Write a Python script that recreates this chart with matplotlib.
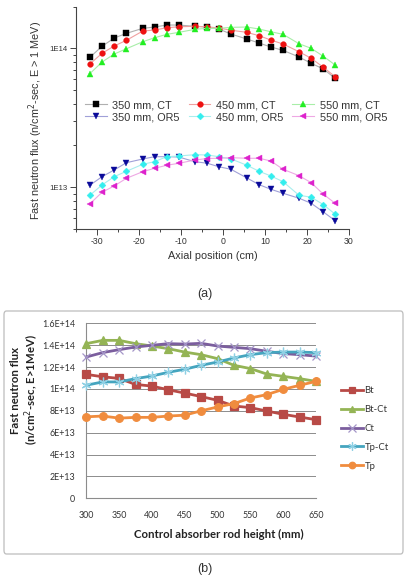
import math
import matplotlib
matplotlib.use('Agg')
import matplotlib.pyplot as plt
from matplotlib.patches import FancyBboxPatch
from matplotlib.ticker import MultipleLocator, LogLocator, FuncFormatter, NullFormatter

plt.rcParams['axes.unicode_minus'] = False

# ---- (a) axial fast flux profiles ----
axial_cm = [-31.7, -28.8, -25.9, -23.0, -19.1, -16.3, -13.4, -10.5, -6.7, -3.8,
            -1.0, 1.9, 5.7, 8.6, 11.4, 14.3, 18.1, 21.0, 23.9, 26.7]
# CT series in units of 1E14
ct_350 = [0.862, 1.034, 1.186, 1.282, 1.393, 1.423, 1.471, 1.471, 1.44, 1.42,
          1.377, 1.267, 1.166, 1.092, 1.022, 0.967, 0.866, 0.78, 0.71, 0.608]
ct_450 = [0.771, 0.921, 1.039, 1.142, 1.332, 1.354, 1.406, 1.43, 1.44, 1.43,
          1.40, 1.35, 1.303, 1.232, 1.147, 1.074, 0.945, 0.848, 0.73, 0.625]
ct_550 = [0.657, 0.797, 0.910, 0.993, 1.116, 1.192, 1.261, 1.303, 1.37, 1.393,
          1.393, 1.416, 1.423, 1.377, 1.316, 1.261, 1.079, 1.0, 0.876, 0.759]
# OR5 series in units of 1E13
or5_350 = [1.034, 1.192, 1.332, 1.503, 1.598, 1.66, 1.66, 1.65, 1.528, 1.49,
           1.406, 1.347, 1.166, 1.044, 0.967, 0.905, 0.834, 0.767, 0.664, 0.575]
or5_450 = [0.876, 1.039, 1.192, 1.303, 1.464, 1.528, 1.66, 1.68, 1.716, 1.708,
           1.66, 1.6, 1.44, 1.303, 1.206, 1.097, 0.876, 0.848, 0.75, 0.64]
or5_550 = [0.759, 0.921, 1.022, 1.16, 1.295, 1.37, 1.44, 1.488, 1.571, 1.61,
           1.617, 1.633, 1.617, 1.617, 1.546, 1.347, 1.212, 1.079, 0.891, 0.767]

# ---- (b) flux vs control absorber rod height, units of 1E13 ----
rod_mm = [300, 325, 350, 375, 400, 425, 450, 475, 500, 525, 550, 575, 600, 625, 650]
bt = [11.33, 11.11, 10.96, 10.41, 10.26, 9.92, 9.62, 9.30, 8.96, 8.44, 8.29, 7.98, 7.68, 7.43, 7.19]
bt_ct = [14.14, 14.44, 14.44, 14.14, 13.92, 13.68, 13.37, 13.13, 12.77, 12.16, 11.86, 11.36, 11.15, 10.94, 10.69]
ct = [12.92, 13.32, 13.59, 13.83, 13.99, 14.14, 14.10, 14.17, 13.92, 13.80, 13.68, 13.44, 13.23, 13.13, 13.00]
tp_ct = [10.34, 10.64, 10.64, 10.94, 11.18, 11.52, 11.80, 12.16, 12.46, 12.83, 13.13, 13.32, 13.37, 13.37, 13.32]
tp = [7.45, 7.52, 7.33, 7.40, 7.40, 7.52, 7.60, 8.00, 8.35, 8.66, 9.17, 9.48, 9.96, 10.33, 10.69]
b_ticks = [0, 2e13, 4e13, 6e13, 8e13, 1e14, 1.2e14, 1.4e14, 1.6e14]
b_ticklabels = ['0', '2E+13', '4E+13', '6E+13', '8E+13', '1E+14', '1.2E+14', '1.4E+14', '1.6E+14']

W, H = 412, 583
fig = plt.figure(figsize=(W / 100, H / 100), dpi=100)


def fx(px):
    return px / W


def fy(py):
    return 1 - py / H


# ===== panel (a) =====
sans = ['Liberation Sans', 'DejaVu Sans']
txt = '#333333'
ax = fig.add_axes([fx(76), fy(229.1), (349 - 76) / W, (229.1 - 6.5) / H])
ax.set_yscale('log')
ax.set_xlim(-35, 30)
ax.set_ylim(5e12, 2e14)

a_series = [
    (ct_350, 1e14, 's', '#000000', '#b0b0b0', '350 mm, CT'),
    (or5_350, 1e13, 'v', '#0a0a9a', '#a0a0d8', '350 mm, OR5'),
    (ct_450, 1e14, 'o', '#ee1111', '#f0a0a0', '450 mm, CT'),
    (or5_450, 1e13, 'D', '#33eeee', '#a8eeee', '450 mm, OR5'),
    (ct_550, 1e14, '^', '#22ee22', '#a8eea8', '550 mm, CT'),
    (or5_550, 1e13, '<', '#dd22cc', '#eea8e4', '550 mm, OR5'),
]
for vals, scale, mk, mc, lc, lab in a_series:
    ms = 3.5 if mk == 'D' else 4.1
    ax.plot(axial_cm, [v * scale for v in vals], color=lc, lw=0.8, marker=mk,
            ms=ms, mfc=mc, mec=mc, mew=0.3, label=lab)

for s in ['top', 'right']:
    ax.spines[s].set_visible(False)
for s in ['left', 'bottom']:
    ax.spines[s].set_color('#444444')
    ax.spines[s].set_linewidth(0.8)
ax.xaxis.set_major_locator(MultipleLocator(10))
ax.xaxis.set_minor_locator(MultipleLocator(5))
ax.yaxis.set_major_locator(LogLocator(base=10))
ax.yaxis.set_minor_locator(LogLocator(base=10, subs=range(2, 10)))
ax.yaxis.set_major_formatter(FuncFormatter(lambda v, p: '1E%d' % round(math.log10(v))))
ax.yaxis.set_minor_formatter(NullFormatter())
ax.tick_params(which='both', direction='out', colors='#444444', width=0.7)
ax.tick_params(which='major', length=4)
ax.tick_params(which='minor', length=2.5)
ax.tick_params(axis='x', labelsize=6.3, labelcolor=txt, pad=2)
ax.tick_params(axis='y', labelsize=5.6, labelcolor=txt, pad=2)
for t in ax.get_xticklabels() + ax.get_yticklabels():
    t.set_family(sans)

ax.set_xlabel('Axial position (cm)', fontsize=7.8, color=txt, family=sans, labelpad=3)
ax.set_ylabel('Fast neutron flux (n/cm$^2$-sec, E > 1 MeV)', fontsize=7.8,
              color=txt, family=sans)
ax.yaxis.set_label_coords((45 - 76) / 273, 0.49)

handles, labels = ax.get_legend_handles_labels()
fig.legend(handles, labels, ncol=3, loc='upper left',
           bbox_to_anchor=(fx(85), fy(100)), frameon=False,
           prop={'family': sans, 'size': 7.8}, handlelength=2.0,
           handletextpad=0.5, columnspacing=0.85, labelspacing=0.2,
           borderpad=0, borderaxespad=0, labelcolor=txt)

fig.text(fx(205), fy(294), '(a)', ha='center', va='center', fontsize=9,
         color=txt, family=sans)

# ===== panel (b) =====
cal = ['Lato', 'DejaVu Sans']
frame = FancyBboxPatch((fx(4), fy(554)), fx(403) - fx(4), fy(311) - fy(554),
                       boxstyle='round,pad=0,rounding_size=0.006',
                       transform=fig.transFigure, fc='none', ec='#bdbdbd',
                       lw=0.9, zorder=0)
fig.patches.append(frame)

bx = fig.add_axes([fx(86.3), fy(498.3), (316 - 86.3) / W, (498.3 - 323.3) / H])
bx.set_xlim(300, 650)
bx.set_ylim(0, 1.6e14)
bx.set_facecolor('none')

b_series = [
    (bt, 's', '#b84a46', '#b84a46', 'Bt', 5.5),
    (bt_ct, '^', '#94b455', '#94b455', 'Bt-Ct', 5.5),
    (ct, 'x', '#7b5e9e', '#a496c8', 'Ct', 6),
    (tp_ct, (6, 2, 0), '#45a5bf', '#8fd0e4', 'Tp-Ct', 7),
    (tp, 'o', '#f08c3e', '#f08c3e', 'Tp', 5.5),
]
for vals, mk, col, mcol, lab, ms in b_series:
    bx.plot(rod_mm, [v * 1e13 for v in vals], color=col, lw=2.0, marker=mk,
            ms=ms, mfc=mcol, mec=mcol, mew=0.9, label=lab, clip_on=False,
            zorder=3)

bx.set_yticks(b_ticks)
bx.set_yticklabels(b_ticklabels)
bx.set_xticks(range(300, 651, 50))
bx.grid(axis='y', color='#8c8c8c', lw=0.7)
bx.set_axisbelow(True)
for s in ['top', 'right']:
    bx.spines[s].set_visible(False)
for s in ['left', 'bottom']:
    bx.spines[s].set_color('#8c8c8c')
    bx.spines[s].set_linewidth(0.8)
bx.tick_params(axis='both', length=0, labelsize=6.4, labelcolor='#333333')
bx.tick_params(axis='y', pad=8)
bx.tick_params(axis='x', pad=9)
for t in bx.get_xticklabels() + bx.get_yticklabels():
    t.set_family(cal)

bx.set_xlabel('Control absorber rod height (mm)', fontsize=8.2, fontweight='bold',
              family=cal, color='#222222')
bx.xaxis.set_label_coords((219 - 86.3) / (316 - 86.3), -(529 - 498.3) / 175)
bx.set_ylabel('Fast neutron flux\n(n/cm$^2$-sec, E>1MeV)', fontsize=8.2,
              fontweight='bold', family=cal, color='#222222', linespacing=1.15)
bx.yaxis.set_label_coords(-(86.3 - 41) / (316 - 86.3), (498.3 - 390) / 175)

fig.legend(*bx.get_legend_handles_labels(), loc='upper left',
           bbox_to_anchor=(fx(341), fy(386)), frameon=False,
           prop={'family': cal, 'size': 6.8}, handlelength=2.3,
           handletextpad=0.2, labelspacing=1.05, borderpad=0,
           borderaxespad=0, labelcolor='#333333', markerscale=0.85)

fig.text(fx(205), fy(569), '(b)', ha='center', va='center', fontsize=9,
         color=txt, family=sans)

fig.savefig('out.png', dpi=100)
plt.close(fig)
